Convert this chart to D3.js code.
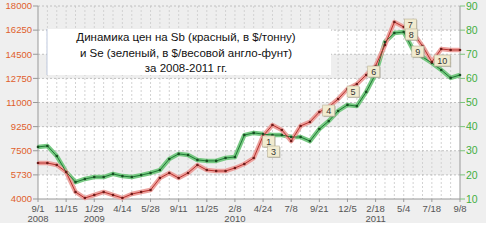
<!DOCTYPE html>
<html>
<head>
<meta charset="utf-8">
<script src="https://cdn.jsdelivr.net/npm/d3@7"></script>
<style>
  body { margin: 0; background: #fff; }
  text { font-family: "Liberation Sans", Arial, sans-serif; }
</style>
</head>
<body>
<svg id="chart" width="493" height="242"></svg>
<script>
// x positions are period indexes (0..45), a tick label every 3 periods
const tickLabels = ["9/1", "11/15", "1/29", "4/14", "5/28", "9/11", "11/25", "2/8",
                    "4/24", "7/8", "9/21", "12/5", "2/18", "5/4", "7/18", "9/8"];
const tickYears = {"9/1": "2008", "1/29": "2009", "2/8": "2010", "2/18": "2011"};

const leftTicks = ["4000", "5730", "7500", "9250", "11000", "12750", "14500", "16250", "18000"];
const rightTicks = ["10", "20", "30", "40", "50", "60", "70", "80", "90"];

// Sb, $/tonne (left axis)
const sb = [6610, 6610, 6470, 5960, 4510, 4070, 4290, 4510, 4290, 4070,
            4360, 4510, 4650, 5520, 5890, 5520, 5890, 6470, 6100, 6030,
            6030, 6250, 6540, 6970, 8570, 9370, 9010, 8210, 9300, 9590,
            10310, 10670, 11250, 11980, 12340, 13000, 13650, 15170, 16840, 16480,
            16040, 15100, 13940, 14880, 14810, 14810];

// Se, $/lb (right axis)
const se = [31.6, 32.0, 27.8, 21.2, 17.0, 18.3, 19.1, 19.1, 20.4, 19.5,
            19.1, 19.9, 20.8, 22.0, 26.6, 28.7, 28.2, 26.2, 25.8, 25.8,
            27.0, 27.4, 36.5, 37.4, 36.9, 36.5, 36.5, 35.7, 35.7, 34.0,
            39.0, 42.3, 46.5, 49.0, 48.5, 54.4, 61.8, 75.1, 78.8, 79.2,
            71.8, 68.9, 66.4, 63.5, 60.2, 61.4];

// numbered event notes: period index, left-axis value
const noteText = ["1", "3", "4", "5", "6", "7", "8", "9", "10"];
const noteIdx = [24.6, 25.1, 31.0, 33.6, 35.8, 39.7, 39.8, 40.5, 43.1];
const noteVal = [8140, 7410, 10380, 11760, 13210, 16620, 15900, 14660, 14010];

const titleLines = ["Динамика цен на Sb (красный, в $/тонну)",
                    "и Se (зеленый, в $/весовой англо-фунт)",
                    "за 2008-2011 гг."];

const svg = d3.select("#chart");
const plotLeft = 38, plotRight = 460, plotTop = 6, plotBottom = 199;

const x = d3.scaleLinear().domain([0, sb.length - 1]).range([plotLeft, plotRight]);
const yL = d3.scaleLinear().domain([4000, 18000]).range([plotBottom, plotTop]);
const yR = d3.scaleLinear().domain([10, 90]).range([plotBottom, plotTop]);

// panel background
svg.append("rect").attr("x", 0).attr("y", 0).attr("width", 486).attr("height", 223)
    .attr("fill", "#efefef");

// alternating horizontal bands
const bandY = d3.range(leftTicks.length).map(i => yR(10 + i * 10));
for (let k = 0; k < bandY.length - 1; k++) {
    svg.append("rect")
        .attr("x", plotLeft).attr("y", bandY[k + 1])
        .attr("width", plotRight - plotLeft).attr("height", bandY[k] - bandY[k + 1])
        .attr("fill", k % 2 === 0 ? "#ffffff" : "#eeeeee");
}

// grid
svg.append("g").selectAll("line").data(d3.range(1, sb.length - 1)).join("line")
    .attr("x1", d => x(d)).attr("x2", d => x(d))
    .attr("y1", plotTop).attr("y2", plotBottom)
    .attr("stroke", "#d2d2d2").attr("stroke-dasharray", "2,2");

svg.append("g").selectAll("line").data(bandY.slice(1)).join("line")
    .attr("x1", plotLeft).attr("x2", plotRight)
    .attr("y1", d => d).attr("y2", d => d)
    .attr("stroke", "#c0c0c0").attr("stroke-dasharray", "2,2");

// axes frame
svg.append("line").attr("x1", plotLeft).attr("x2", plotLeft).attr("y1", plotTop).attr("y2", plotBottom)
    .attr("stroke", "#999");
svg.append("line").attr("x1", plotRight).attr("x2", plotRight).attr("y1", plotTop).attr("y2", plotBottom)
    .attr("stroke", "#999");
svg.append("line").attr("x1", plotLeft).attr("x2", plotRight).attr("y1", plotBottom).attr("y2", plotBottom)
    .attr("stroke", "#999");

// left ticks
const lt = svg.append("g").selectAll("g").data(leftTicks).join("g")
    .attr("transform", (d, i) => "translate(0," + bandY[i] + ")");
lt.append("line").attr("x1", plotLeft - 5).attr("x2", plotLeft).attr("stroke", "#999");
lt.append("text").attr("x", plotLeft - 6).attr("dy", "0.35em")
    .attr("text-anchor", "end").attr("font-size", 9.5).attr("fill", "#e0602c")
    .text(d => d);

// right ticks
const rt = svg.append("g").selectAll("g").data(rightTicks).join("g")
    .attr("transform", (d, i) => "translate(0," + bandY[i] + ")");
rt.append("line").attr("x1", plotRight).attr("x2", plotRight + 5).attr("stroke", "#7cc47c");
rt.append("text").attr("x", plotRight + 6).attr("dy", "0.35em")
    .attr("font-size", 10.5).attr("fill", "#3fae3f")
    .text(d => d);

// bottom ticks
const bt = svg.append("g").selectAll("g").data(tickLabels).join("g")
    .attr("transform", (d, i) => "translate(" + x(i * 3) + "," + plotBottom + ")");
bt.append("line").attr("y1", 0).attr("y2", 3).attr("stroke", "#999");
bt.append("text").attr("y", 13).attr("text-anchor", "middle")
    .attr("font-size", 9.5).attr("fill", "#555").text(d => d);
bt.append("text").attr("y", 23).attr("text-anchor", "middle")
    .attr("font-size", 9.5).attr("fill", "#555").text(d => tickYears[d] || "");

// series
const lineL = d3.line().x((d, i) => x(i)).y(d => yL(d));
const lineR = d3.line().x((d, i) => x(i)).y(d => yR(d));

svg.append("path").attr("d", lineR(se)).attr("fill", "none")
    .attr("stroke", "#78c983").attr("stroke-width", 4.5).attr("stroke-linejoin", "round");
svg.append("path").attr("d", lineL(sb)).attr("fill", "none")
    .attr("stroke", "#eca29e").attr("stroke-width", 4.5).attr("stroke-linejoin", "round");
svg.append("path").attr("d", lineR(se)).attr("fill", "none")
    .attr("stroke", "#1f7a35").attr("stroke-width", 1);
svg.append("path").attr("d", lineL(sb)).attr("fill", "none")
    .attr("stroke", "#b8302c").attr("stroke-width", 1);

svg.append("g").selectAll("circle").data(se).join("circle")
    .attr("cx", (d, i) => x(i)).attr("cy", d => yR(d)).attr("r", 1.3).attr("fill", "#174d22");
svg.append("g").selectAll("circle").data(sb).join("circle")
    .attr("cx", (d, i) => x(i)).attr("cy", d => yL(d)).attr("r", 1.3).attr("fill", "#6b1a18");

// title box
svg.append("rect").attr("x", 47).attr("y", 29).attr("width", 284).attr("height", 46)
    .attr("fill", "#fff");
svg.append("line").attr("x1", 47).attr("x2", 47).attr("y1", 29).attr("y2", 75)
    .attr("stroke", "#aebbd6").attr("stroke-width", 0.8);
svg.append("g").selectAll("text").data(titleLines).join("text")
    .attr("x", 186).attr("y", (d, i) => 41 + i * 15.5)
    .attr("text-anchor", "middle").attr("font-size", 11.5).attr("fill", "#111")
    .text(d => d);

// notes
const notes = svg.append("g").selectAll("g").data(noteText).join("g")
    .attr("transform", (d, i) => "translate(" + x(noteIdx[i]) + "," + yL(noteVal[i]) + ")");
notes.append("rect")
    .attr("x", d => (d.length > 1 ? -8 : -6) + 1).attr("y", -5)
    .attr("width", d => d.length > 1 ? 16 : 12).attr("height", 11)
    .attr("fill", "#9a9a8a").attr("opacity", 0.6);
notes.append("rect")
    .attr("x", d => d.length > 1 ? -8 : -6).attr("y", -6)
    .attr("width", d => d.length > 1 ? 16 : 12).attr("height", 11)
    .attr("fill", "#f1ebcf").attr("stroke", "#b9b196").attr("stroke-width", 0.6);
notes.append("text").attr("text-anchor", "middle").attr("dy", "0.3em")
    .attr("font-size", 9).attr("fill", "#333").text(d => d);
</script>
</body>
</html>
